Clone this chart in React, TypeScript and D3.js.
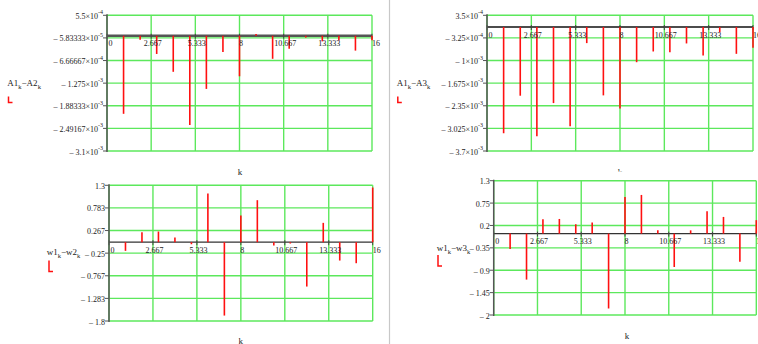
import React from "react";
import * as d3 from "d3";

const ks = d3.range(1, 17);
const xTickValues = [0, 2.667, 5.333, 8, 10.667, 13.333, 16];
const xTickLabels = ["0", "2.667", "5.333", "8", "10.667", "13.333", "16"];

const a1a2 = [-2.10e-3, -1.1e-4, -4.9e-4, -9.7e-4, -2.40e-3, -1.43e-3, -4.4e-4, -1.09e-3, 5e-5, -6.2e-4, -3.5e-4, -5e-5, -1.5e-4, -1.3e-4, -4.0e-4, -1.2e-4];
const a1a3 = [-3.17e-3, -2.05e-3, -3.26e-3, -2.27e-3, -2.96e-3, -4.8e-4, -2.04e-3, -2.43e-3, -1.05e-3, -7.3e-4, -7.5e-4, -4.9e-4, -8.5e-4, -1.6e-4, -8.0e-4, -6.2e-4];
const w1w2 = [-0.198, 0.228, 0.244, 0.107, -0.046, 1.112, -1.676, 0.609, 0.96, -0.076, -0.03, -1.013, 0.442, -0.419, -0.48, 1.249];
const w1w3 = [-0.38, -1.13, 0.35, 0.36, 0.23, 0.27, -1.84, 0.90, 0.95, 0.08, -0.82, 0.08, 0.55, 0.41, -0.69, 0.33];

const p1Ticks = [["5.5", "-4"], ["– 5.83333", "-5"], ["– 6.66667", "-4"], ["– 1.275", "-3"], ["– 1.88333", "-3"], ["– 2.49167", "-3"], ["– 3.1", "-3"]];
const p2Ticks = [["3.5", "-4"], ["– 3.25", "-4"], ["– 1", "-3"], ["– 1.675", "-3"], ["– 2.35", "-3"], ["– 3.025", "-3"], ["– 3.7", "-3"]];
const p3Ticks = [["1.3"], ["0.783"], ["0.267"], ["– 0.25"], ["– 0.767"], ["– 1.283"], ["– 1.8"]];
const p4Ticks = [["1.3"], ["0.75"], ["0.2"], ["– 0.35"], ["– 0.9"], ["– 1.45"], ["– 2"]];

const FONT = "'Liberation Serif', 'Times New Roman', serif";
const GRID = "#5ce85c";

type PanelProps = {
  x0: number; x1: number; y0: number; y1: number;
  yMax: number; yMin: number;
  ticks: string[][];
  values: number[];
  axisColor: string; axisWidth: number;
  title: [string, string, string, string];
  tx: number; ty: number;
  lx: number; ly: number; lh: number;
  kx: number; ky: number;
  kClip?: string;
};

function Panel(p: PanelProps) {
  const x = d3.scaleLinear().domain([0, 16]).range([p.x0, p.x1]);
  const y = d3.scaleLinear().domain([p.yMax, p.yMin]).range([p.y0, p.y1]);
  const yt = d3.range(7).map((i) => p.yMax + (i * (p.yMin - p.yMax)) / 6);
  const z = y(0);
  return (
    <g fontFamily={FONT} fill="#222">
      {yt.map((v, i) => (
        <line key={"gy" + i} x1={p.x0} x2={p.x1} y1={y(v)} y2={y(v)} stroke={GRID} strokeWidth={1.4} />
      ))}
      {xTickValues.map((v, i) => (
        <line key={"gx" + i} x1={x(v)} x2={x(v)} y1={p.y0} y2={p.y1} stroke={GRID} strokeWidth={1.4} />
      ))}
      <line x1={p.x0} x2={p.x1} y1={z} y2={z} stroke={p.axisColor} strokeWidth={p.axisWidth} />
      {xTickValues.map((v, i) => (
        <line key={"tx" + i} x1={x(v)} x2={x(v)} y1={z - 2} y2={z + 3} stroke="#444" strokeWidth={1} />
      ))}
      <line x1={p.x0} x2={p.x0} y1={p.y0 - 1} y2={p.y1 + 1} stroke="#555" strokeWidth={1.5} />
      {yt.map((v, i) => (
        <line key={"ty" + i} x1={p.x0 - 4} x2={p.x0} y1={y(v)} y2={y(v)} stroke="#555" strokeWidth={1} />
      ))}
      {ks.map((k, i) => (
        <line key={"s" + k} x1={x(k)} x2={x(k)} y1={z} y2={y(p.values[i])} stroke="#ff1010" strokeWidth={1.6} />
      ))}
      {p.ticks.map((t, i) => (
        <text key={"yl" + i} x={p.x0 - 4} y={y(yt[i]) + 3.5} fontSize={8} textAnchor="end">
          {t[0]}
          {t.length > 1 ? "×10" : ""}
          {t.length > 1 ? (
            <tspan dy={-4.5} fontSize={6}>{t[1]}</tspan>
          ) : null}
        </text>
      ))}
      {xTickLabels.map((s, i) => (
        <text
          key={"xl" + i}
          x={i === 0 ? x(xTickValues[i]) + 1.5 : i === 6 ? x(xTickValues[i]) : x(xTickValues[i]) + 1.5}
          y={z + 10.5}
          fontSize={8}
          textAnchor={i === 0 || i === 6 ? "start" : "middle"}
        >
          {s}
        </text>
      ))}
      <text x={p.tx} y={p.ty} fontSize={9}>
        {p.title[0]}
        <tspan dy={2.5} fontSize={6.5}>{p.title[1]}</tspan>
        <tspan dy={-2.5}>{p.title[2]}</tspan>
        <tspan dy={2.5} fontSize={6.5}>{p.title[1]}</tspan>
        <tspan dy={-2.5}>{p.title[3]}</tspan>
      </text>
      <path d={`M${p.lx},${p.ly} V${p.ly + p.lh} H${p.lx + 4}`} fill="none" stroke="#ff1010" strokeWidth={1.5} />
      <g clipPath={p.kClip}>
        <text x={p.kx} y={p.ky} fontSize={9} textAnchor="middle">k</text>
      </g>
    </g>
  );
}

export default function App() {
  return (
    <svg
      width={758}
      height={344}
      style={{ position: "fixed", left: 0, top: 0, background: "#fff" }}
    >
      <defs>
        <clipPath id="kc">
          <rect x={390} y={0} width={368} height={171.5} />
        </clipPath>
      </defs>
      <rect width={758} height={344} fill="#fff" />
      <line x1={389.5} x2={389.5} y1={0} y2={344} stroke="#c8c8c8" strokeWidth={1.2} />
      <Panel
        x0={107} x1={372} y0={15.3} y1={151} yMax={5.5e-4} yMin={-3.1e-3}
        ticks={p1Ticks} values={a1a2} axisColor="#555" axisWidth={2.6}
        title={["A1", "k", "−A2", ""]} tx={7.3} ty={86}
        lx={8.5} ly={96.5} lh={6} kx={240} ky={175}
      />
      <Panel
        x0={487} x1={753} y0={15.3} y1={151} yMax={3.5e-4} yMin={-3.7e-3}
        ticks={p2Ticks} values={a1a3} axisColor="#111" axisWidth={1.5}
        title={["A1", "k", "−A3", ""]} tx={396.7} ty={86}
        lx={397.8} ly={96.5} lh={6} kx={620} ky={175} kClip="url(#kc)"
      />
      <Panel
        x0={109} x1={372.7} y0={185.3} y1={321} yMax={1.3} yMin={-1.8}
        ticks={p3Ticks} values={w1w2} axisColor="#333" axisWidth={1.2}
        title={["w1", "k", "−w2", ""]} tx={46.7} ty={255.3}
        lx={49} ly={260.5} lh={11} kx={240.7} ky={343.5}
      />
      <Panel
        x0={493.7} x1={756.3} y0={180.7} y1={315} yMax={1.3} yMin={-2}
        ticks={p4Ticks} values={w1w3} axisColor="#333" axisWidth={1.2}
        title={["w1", "k", "−w3", ""]} tx={436.7} ty={251}
        lx={438} ly={255} lh={11} kx={627} ky={338.5}
      />
    </svg>
  );
}
